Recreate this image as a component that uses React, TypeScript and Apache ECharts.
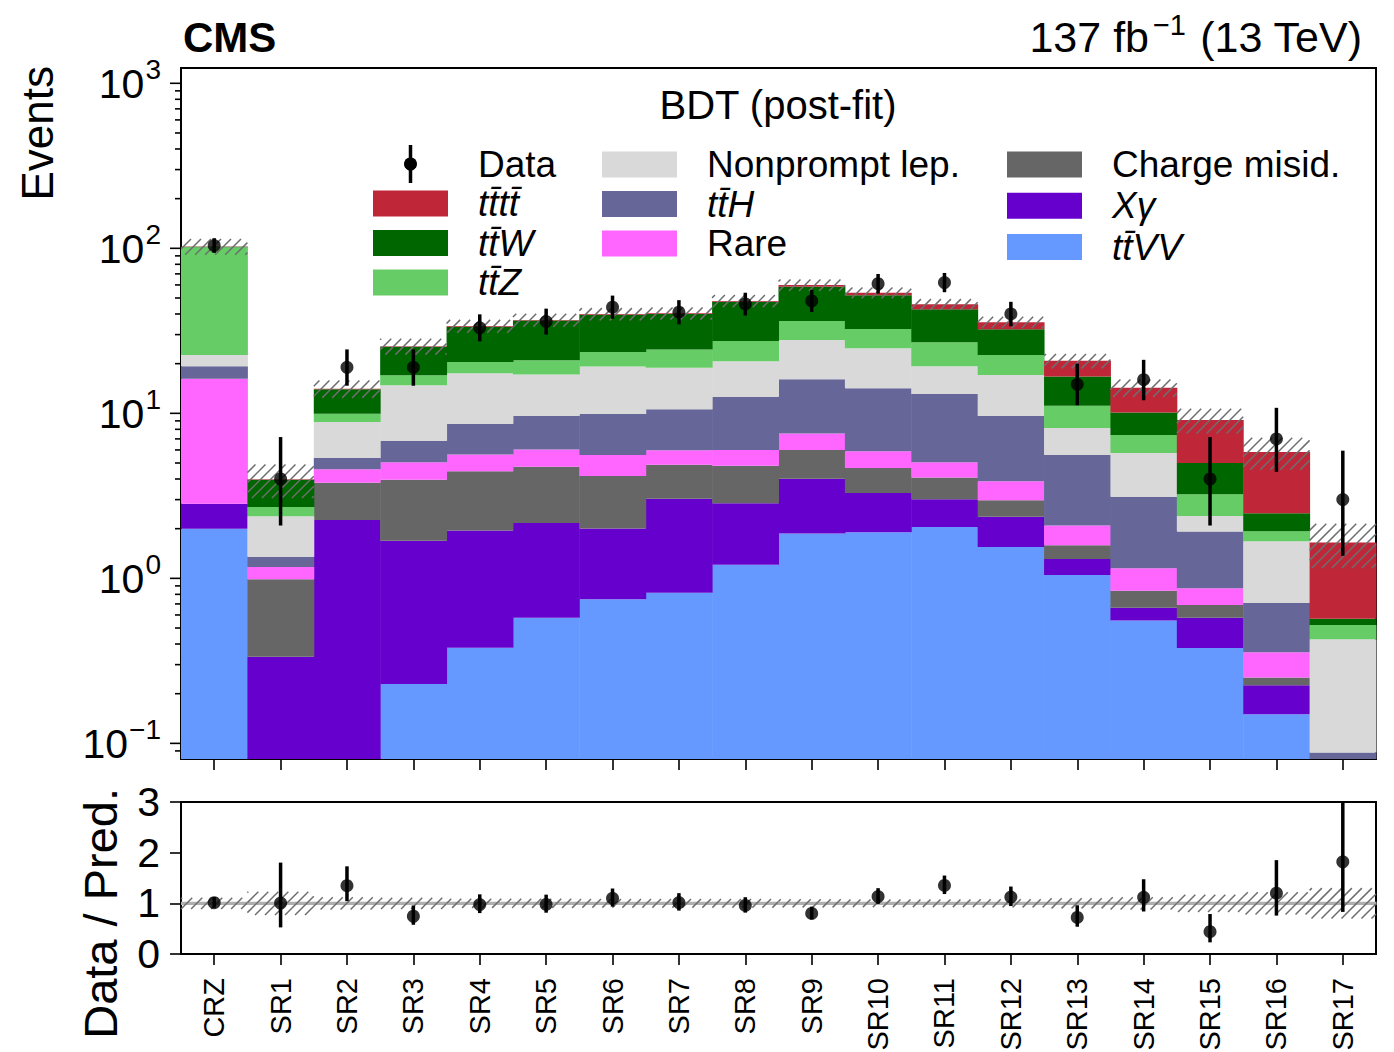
import React, { useEffect, useRef } from 'react';
import * as echarts from 'echarts';

const FONT = '"Liberation Sans", Arial, Helvetica, sans-serif';

// ---------------- data ----------------
const categories = ['CRZ', 'SR1', 'SR2', 'SR3', 'SR4', 'SR5', 'SR6', 'SR7', 'SR8', 'SR9', 'SR10', 'SR11', 'SR12', 'SR13', 'SR14', 'SR15', 'SR16', 'SR17'];

// post-fit yields per process (stack order: bottom -> top)
const ttVV = [2.0, 0.02, 0.02, 0.229, 0.38, 0.577, 0.746, 0.818, 1.21, 1.87, 1.9, 2.05, 1.55, 1.047, 0.556, 0.378, 0.15, 0.03];
const xGamma = [0.83, 0.315, 2.24, 1.46, 1.57, 1.59, 1.26, 2.22, 1.64, 2.14, 1.39, 0.97, 0.81, 0.263, 0.107, 0.199, 0.075, 0.01];
const chargeMisid = [0.0, 0.652, 1.53, 2.27, 2.5, 2.58, 2.16, 1.84, 1.96, 1.98, 1.37, 1.07, 0.61, 0.275, 0.178, 0.112, 0.026, 0.005];
const rare = [13.37, 0.183, 0.8, 1.1, 1.19, 1.3, 1.42, 1.09, 1.18, 1.57, 1.23, 0.96, 0.9, 0.505, 0.309, 0.181, 0.105, 0.01];
const ttH = [3.1, 0.18, 0.78, 1.76, 3.01, 3.62, 4.31, 4.63, 6.61, 8.54, 8.31, 8.05, 5.76, 3.5, 1.97, 1.05, 0.352, 0.033];
const nonprompt = [3.3, 1.03, 3.5, 7.98, 8.85, 7.53, 9.3, 8.3, 8.1, 11.7, 10.6, 6.2, 7.47, 2.56, 2.62, 0.47, 0.972, 0.34];
const ttZ = [79.0, 0.33, 1.08, 2.2, 3.0, 3.8, 4.3, 5.5, 6.7, 8.5, 7.6, 7.7, 5.5, 2.95, 1.65, 0.84, 0.25, 0.093];
const ttW = [0.6, 1.25, 4.05, 8.3, 13.0, 15.5, 16.1, 15.6, 20.1, 22.2, 19.5, 15.7, 9.7, 5.6, 2.71, 1.77, 0.55, 0.048];
const tttt = [0.4, 0.02, 0.1, 0.2, 0.3, 0.3, 0.4, 0.4, 0.5, 1.4, 1.9, 3.1, 3.3, 4.1, 4.2, 4.1, 3.35, 1.08];

// relative total uncertainty of the prediction
const predUnc = [0.11, 0.23, 0.12, 0.11, 0.09, 0.09, 0.085, 0.085, 0.085, 0.08, 0.075, 0.075, 0.08, 0.1, 0.12, 0.17, 0.22, 0.3];

// observed data with 68% CL interval
const dataObs = [104, 4, 19, 19, 33, 36, 44, 41, 46, 48, 61, 62, 40, 15, 16, 4, 7, 3];
const dataLo = [93.8, 2.09, 14.7, 14.7, 27.3, 30.0, 37.4, 34.6, 39.2, 41.1, 53.2, 54.2, 33.7, 11.2, 12.0, 2.09, 4.42, 1.37];
const dataHi = [115.2, 7.18, 24.4, 24.4, 39.8, 43.1, 51.7, 48.5, 53.8, 56.0, 69.9, 70.9, 47.4, 20.0, 21.1, 7.18, 10.8, 5.94];

// axes
const yMajorExponents = [-1, 0, 1, 2, 3];
const yMinorMultipliers = [2, 3, 4, 5, 6, 7, 8, 9];
const ratioTicks = [0, 1, 2, 3];

// ---------------- styles ----------------
const Y_MIN = 0.0804;
const Y_MAX = 1238;

const processes = [
  { name: 'tt\u0304VV', values: ttVV, color: '#6699ff', italic: true },
  { name: 'X\u03b3', values: xGamma, color: '#6600cc', italic: true },
  { name: 'Charge misid.', values: chargeMisid, color: '#666666', italic: false },
  { name: 'Rare', values: rare, color: '#ff66ff', italic: false },
  { name: 'tt\u0304H', values: ttH, color: '#666699', italic: true },
  { name: 'Nonprompt lep.', values: nonprompt, color: '#d9d9d9', italic: false },
  { name: 'tt\u0304Z', values: ttZ, color: '#66cc66', italic: true },
  { name: 'tt\u0304W', values: ttW, color: '#006600', italic: true },
  { name: 'tt\u0304tt\u0304', values: tttt, color: '#bf2739', italic: true },
];

const HATCH_STEP = 10;

function hatchLines(x0: number, x1: number, y0: number, y1: number) {
  const out: any[] = [];
  const cStart = Math.ceil((x0 + y0) / HATCH_STEP) * HATCH_STEP;
  for (let c = cStart; c <= x1 + y1; c += HATCH_STEP) {
    const xa = Math.max(x0, c - y1);
    const xb = Math.min(x1, c - y0);
    if (xb - xa > 0.3) {
      out.push({
        type: 'line',
        shape: { x1: xa, y1: c - xa, x2: xb, y2: c - xb },
        style: { stroke: '#6e6e6e', lineWidth: 1.5 },
      });
    }
  }
  return out;
}

function clampY(y: number, cs: any) {
  if (!isFinite(y)) return cs.y + cs.height;
  return Math.max(cs.y, Math.min(cs.y + cs.height, y));
}

function supWidth(s: string, size: number) {
  let w = 0;
  for (const ch of s) w += ch === '\u2212' ? 0.584 : 0.556;
  return w * size;
}

export default function App() {
  const ref = useRef<HTMLDivElement>(null);

  useEffect(() => {
    const chart = echarts.init(ref.current as HTMLDivElement, null, { renderer: 'svg' });
    const nBins = categories.length;

    const totals = categories.map((_, i) => processes.reduce((s, p) => s + p.values[i], 0));

    const series: any[] = [];

    // stacked histogram
    const cum = categories.map(() => 0);
    processes.forEach((p) => {
      const data = p.values.map((v, i) => {
        const lo = cum[i];
        cum[i] += v;
        return [i, lo, cum[i]];
      });
      series.push({
        type: 'custom',
        name: p.name,
        xAxisIndex: 0,
        yAxisIndex: 0,
        itemStyle: { color: p.color },
        encode: { x: 0, y: [1, 2] },
        z: 1,
        silent: true,
        data,
        renderItem: (params: any, api: any) => {
          const cs = params.coordSys;
          const i = api.value(0);
          const lo = api.value(1);
          const hi = api.value(2);
          const bw = cs.width / nBins;
          const x0 = cs.x + bw * i;
          const yTop = clampY(hi > 0 ? api.coord([i, hi])[1] : NaN, cs);
          const yBot = clampY(lo > 0 ? api.coord([i, lo])[1] : NaN, cs);
          if (yBot - yTop <= 0.01) return null;
          return {
            type: 'rect',
            shape: { x: x0, y: yTop, width: bw + 0.5, height: yBot - yTop },
            style: { fill: p.color },
          };
        },
      });
    });

    // uncertainty hatch (main)
    series.push({
      type: 'custom',
      xAxisIndex: 0,
      yAxisIndex: 0,
      z: 3,
      silent: true,
      encode: { x: 0, y: [1, 2] },
      data: totals.map((t, i) => [i, t * (1 - predUnc[i]), t * (1 + predUnc[i])]),
      renderItem: (params: any, api: any) => {
        const cs = params.coordSys;
        const i = api.value(0);
        const bw = cs.width / nBins;
        const x0 = cs.x + bw * i;
        const yTop = clampY(api.coord([i, api.value(2)])[1], cs);
        const yBot = clampY(api.coord([i, api.value(1)])[1], cs);
        return { type: 'group', children: hatchLines(x0, x0 + bw, yTop, yBot) };
      },
    });

    // data error bars (main)
    series.push({
      type: 'custom',
      xAxisIndex: 0,
      yAxisIndex: 0,
      z: 4,
      silent: true,
      encode: { x: 0, y: [1, 2] },
      data: dataObs.map((_, i) => [i, dataLo[i], dataHi[i]]),
      renderItem: (params: any, api: any) => {
        const cs = params.coordSys;
        const i = api.value(0);
        const x = api.coord([i, api.value(1)])[0];
        const y1 = clampY(api.coord([i, api.value(2)])[1], cs);
        const y2 = clampY(api.coord([i, api.value(1)])[1], cs);
        return {
          type: 'line',
          shape: { x1: x, y1, x2: x, y2 },
          style: { stroke: '#000', lineWidth: 3.5 },
        };
      },
    });

    // data points (main)
    series.push({
      type: 'scatter',
      name: 'Data',
      xAxisIndex: 0,
      yAxisIndex: 0,
      z: 5,
      symbol: 'circle',
      symbolSize: 13,
      itemStyle: { color: '#000' },
      silent: true,
      data: dataObs.map((v, i) => [i, v]),
    });

    // y ticks of main log axis (drawn through the axis scale)
    const yTickData: number[][] = [];
    yMajorExponents.forEach((n) => yTickData.push([0, Math.pow(10, n), 1, n]));
    for (let n = -2; n <= 3; n++) {
      yMinorMultipliers.forEach((k) => {
        const v = k * Math.pow(10, n);
        if (v >= Y_MIN && v <= Y_MAX) yTickData.push([0, v, 0, n]);
      });
    }
    series.push({
      type: 'custom',
      xAxisIndex: 0,
      yAxisIndex: 0,
      z: 6,
      silent: true,
      clip: false,
      encode: { x: 0, y: 1 },
      data: yTickData,
      renderItem: (params: any, api: any) => {
        const cs = params.coordSys;
        const v = api.value(1);
        const major = api.value(2) === 1;
        const n = api.value(3);
        const y = api.coord([0, v])[1];
        const len = major ? 11 : 6;
        const children: any[] = [
          { type: 'line', shape: { x1: cs.x - len, y1: y, x2: cs.x, y2: y }, style: { stroke: '#000', lineWidth: 1.6 } },
        ];
        if (major) {
          const exp = n < 0 ? '\u2212' + String(-n) : String(n);
          const right = cs.x - 20;
          const ew = supWidth(exp, 28);
          children.push({
            type: 'text',
            x: right - ew - 1,
            y: y + 1,
            style: { text: '10', fontSize: 41, fontFamily: FONT, fill: '#000', align: 'right', verticalAlign: 'middle' },
          });
          children.push({
            type: 'text',
            x: right,
            y: y - 14,
            style: { text: exp, fontSize: 28, fontFamily: FONT, fill: '#000', align: 'right', verticalAlign: 'middle' },
          });
        }
        return { type: 'group', children };
      },
    });

    // ratio: reference line and uncertainty hatch
    series.push({
      type: 'custom',
      xAxisIndex: 1,
      yAxisIndex: 1,
      z: 2,
      silent: true,
      encode: { x: 0, y: [1, 2] },
      data: predUnc.map((u, i) => [i, 1 - u, 1 + u]),
      renderItem: (params: any, api: any) => {
        const cs = params.coordSys;
        const i = api.value(0);
        const bw = cs.width / nBins;
        const x0 = cs.x + bw * i;
        const yTop = clampY(api.coord([i, api.value(2)])[1], cs);
        const yBot = clampY(api.coord([i, api.value(1)])[1], cs);
        const yOne = api.coord([i, 1])[1];
        return {
          type: 'group',
          children: [
            { type: 'line', shape: { x1: x0, y1: yOne, x2: x0 + bw + 0.5, y2: yOne }, style: { stroke: '#b0b0b0', lineWidth: 3.2 } },
            ...hatchLines(x0, x0 + bw, yTop, yBot),
          ],
        };
      },
    });

    // ratio: data error bars
    series.push({
      type: 'custom',
      xAxisIndex: 1,
      yAxisIndex: 1,
      z: 4,
      silent: true,
      encode: { x: 0, y: [1, 2] },
      data: dataObs.map((_, i) => [i, dataLo[i] / totals[i], dataHi[i] / totals[i]]),
      renderItem: (params: any, api: any) => {
        const cs = params.coordSys;
        const i = api.value(0);
        const x = api.coord([i, 1])[0];
        const y1 = clampY(api.coord([i, api.value(2)])[1], cs);
        const y2 = clampY(api.coord([i, api.value(1)])[1], cs);
        return {
          type: 'line',
          shape: { x1: x, y1, x2: x, y2 },
          style: { stroke: '#000', lineWidth: 3.5 },
        };
      },
    });

    // ratio: data points
    series.push({
      type: 'scatter',
      xAxisIndex: 1,
      yAxisIndex: 1,
      z: 5,
      symbol: 'circle',
      symbolSize: 13,
      itemStyle: { color: '#000' },
      silent: true,
      data: dataObs.map((v, i) => [i, v / totals[i]]),
    });

    const legendText = { fontSize: 37, fontFamily: FONT, color: '#000', padding: [0, 0, 0, 25] };
    const legendItem = (name: string) => {
      const p = processes.find((q) => q.name === name)!;
      return {
        name,
        icon: 'rect',
        itemStyle: { color: p.color, borderWidth: 0 },
        textStyle: p.italic ? { fontStyle: 'italic' } : {},
      };
    };
    const legendBase = {
      orient: 'vertical',
      itemWidth: 75,
      itemHeight: 26,
      padding: 0,
      selectedMode: false,
      textStyle: legendText,
    };

    const option: any = {
      animation: false,
      backgroundColor: '#ffffff',
      textStyle: { fontFamily: FONT },
      grid: [
        { left: 181, top: 68, width: 1195, height: 691, show: true, borderColor: '#000', borderWidth: 2, backgroundColor: 'transparent', containLabel: false, outerBoundsMode: 'none' },
        { left: 181, top: 802, width: 1195, height: 152, show: true, borderColor: '#000', borderWidth: 2, backgroundColor: 'transparent', containLabel: false, outerBoundsMode: 'none' },
      ],
      xAxis: [
        {
          type: 'category',
          gridIndex: 0,
          data: categories,
          boundaryGap: true,
          axisLine: { show: true, lineStyle: { color: '#000', width: 2 } },
          axisTick: { show: true, alignWithLabel: true, inside: false, length: 11, lineStyle: { color: '#000', width: 1.6 } },
          axisLabel: { show: false },
          splitLine: { show: false },
        },
        {
          type: 'category',
          gridIndex: 1,
          data: categories,
          boundaryGap: true,
          axisLine: { show: true, lineStyle: { color: '#000', width: 2 } },
          axisTick: { show: true, alignWithLabel: true, inside: false, length: 11, lineStyle: { color: '#000', width: 1.6 } },
          axisLabel: { show: true, rotate: 90, interval: 0, margin: 24, fontSize: 29, fontFamily: FONT, color: '#000', hideOverlap: false },
          splitLine: { show: false },
        },
      ],
      yAxis: [
        {
          type: 'log',
          logBase: 10,
          gridIndex: 0,
          min: Y_MIN,
          max: Y_MAX,
          axisLine: { show: true, lineStyle: { color: '#000', width: 2 } },
          axisTick: { show: false },
          axisLabel: { show: false },
          splitLine: { show: false },
          minorTick: { show: false },
        },
        {
          type: 'value',
          gridIndex: 1,
          min: ratioTicks[0],
          max: ratioTicks[ratioTicks.length - 1],
          interval: 1,
          axisLine: { show: true, lineStyle: { color: '#000', width: 2 } },
          axisTick: { show: true, inside: false, length: 11, lineStyle: { color: '#000', width: 1.6 } },
          axisLabel: { show: true, margin: 21, fontSize: 41, fontFamily: FONT, color: '#000' },
          splitLine: { show: false },
        },
      ],
      legend: [
        {
          ...legendBase,
          left: 373,
          top: 145,
          itemHeight: 38,
          data: [
            {
              name: 'Data',
              icon: 'rect',
              itemStyle: { color: 'rgba(0,0,0,0)', borderWidth: 0 },
            },
          ],
        },
        { ...legendBase, left: 373, top: 185, itemGap: 2.5, data: ['tt\u0304tt\u0304', 'tt\u0304W', 'tt\u0304Z'].map(legendItem) },
        { ...legendBase, left: 602, top: 146, itemGap: 2.5, data: ['Nonprompt lep.', 'tt\u0304H', 'Rare'].map(legendItem) },
        { ...legendBase, left: 1007, top: 146, itemGap: 4.3, data: ['Charge misid.', 'X\u03b3', 'tt\u0304VV'].map(legendItem) },
      ],
      graphic: [
        // Data legend marker (point with error bar)
        { type: 'line', shape: { x1: 410.5, y1: 145, x2: 410.5, y2: 183 }, style: { stroke: '#000', lineWidth: 3.5 } },
        { type: 'circle', shape: { cx: 410.5, cy: 164, r: 6.5 }, style: { fill: '#000' } },
        { type: 'text', x: 183, y: 37, style: { text: 'CMS', fontSize: 42, fontWeight: 'bold', fontFamily: FONT, fill: '#000', align: 'left', verticalAlign: 'middle' } },
        { type: 'text', x: 1362, y: 37, style: { text: '(13 TeV)', fontSize: 43, fontFamily: FONT, fill: '#000', align: 'right', verticalAlign: 'middle' } },
        { type: 'text', x: 1186, y: 25, style: { text: '\u22121', fontSize: 29, fontFamily: FONT, fill: '#000', align: 'right', verticalAlign: 'middle' } },
        { type: 'text', x: 1149, y: 37, style: { text: '137 fb', fontSize: 43, fontFamily: FONT, fill: '#000', align: 'right', verticalAlign: 'middle' } },
        { type: 'text', x: 778, y: 105, style: { text: 'BDT (post-fit)', fontSize: 40, fontFamily: FONT, fill: '#000', align: 'center', verticalAlign: 'middle' } },
        { type: 'text', x: 37, y: 66, rotation: Math.PI / 2, style: { text: 'Events', fontSize: 44, fontFamily: FONT, fill: '#000', align: 'right', verticalAlign: 'middle' } },
        { type: 'text', x: 100, y: 788, rotation: Math.PI / 2, style: { text: 'Data / Pred.', fontSize: 47, fontFamily: FONT, fill: '#000', align: 'right', verticalAlign: 'middle' } },
      ],
      series,
    };

    chart.setOption(option);
    return () => chart.dispose();
  }, []);

  return (
    <div
      ref={ref}
      style={{ position: 'absolute', left: 0, top: 0, width: 1394, height: 1052, background: '#fff' }}
    />
  );
}
